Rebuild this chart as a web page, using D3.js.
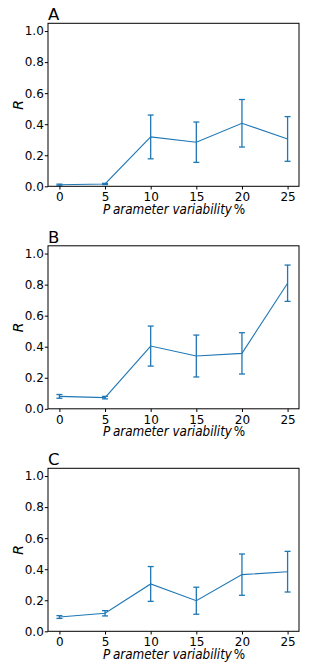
<!DOCTYPE html>
<html>
<head>
<meta charset="utf-8">
<script src="https://cdn.jsdelivr.net/npm/d3@7"></script>
<style>
  body { margin: 0; background: #fff; }
  svg { display: block; }
  text { font-family: "DejaVu Sans", sans-serif; fill: #000; }
</style>
</head>
<body>
<div id="chart"></div>
<script>
// values
const variability = [0, 5, 10, 15, 20, 25];
const panelLabels = ['A', 'B', 'C'];
const meanA = [0.010, 0.015, 0.318, 0.284, 0.406, 0.305];
const errA  = [0.004, 0.004, 0.141, 0.130, 0.153, 0.144];
const meanB = [0.080, 0.072, 0.404, 0.340, 0.357, 0.809];
const errB  = [0.012, 0.008, 0.129, 0.135, 0.133, 0.117];
const meanC = [0.092, 0.116, 0.305, 0.197, 0.365, 0.384];
const errC  = [0.009, 0.017, 0.112, 0.087, 0.133, 0.131];
const yTicks = [0, 0.2, 0.4, 0.6, 0.8, 1.0];

const width = 317, height = 670;
const color = '#1f77b4';

const svg = d3.select('#chart')
  .append('svg')
  .attr('width', width)
  .attr('height', height);

// same scales for every panel, each panel is shifted down
const x = d3.scaleLinear().domain([-1.25, 26.25]).range([48, 299]);
const y = d3.scaleLinear().domain([0, 1.05]).range([186.3, 23.3]);

const panels = [
  { label: panelLabels[0], mean: meanA, err: errA, top: 0 },
  { label: panelLabels[1], mean: meanB, err: errB, top: 222.5 },
  { label: panelLabels[2], mean: meanC, err: errC, top: 445 }
];

panels.forEach(p => {
  const g = svg.append('g').attr('transform', `translate(0, ${p.top})`);
  const pts = variability.map((v, i) => ({ x: v, m: p.mean[i], e: p.err[i] }));

  // axes
  const xAxis = d3.axisBottom(x).tickValues(variability).tickSize(3.2).tickPadding(3.3);
  const yAxis = d3.axisLeft(y).tickValues(yTicks).tickSize(3.2).tickPadding(1)
    .tickFormat(d3.format('.1f'));

  g.append('g')
    .attr('transform', `translate(0, ${y(0)})`)
    .call(xAxis)
    .call(a => a.select('.domain').remove())
    .call(a => a.selectAll('text').attr('font-size', 12).attr('font-family', 'DejaVu Sans'));

  g.append('g')
    .attr('transform', `translate(${x.range()[0]}, 0)`)
    .call(yAxis)
    .call(a => a.select('.domain').remove())
    .call(a => a.selectAll('text').attr('font-size', 12).attr('font-family', 'DejaVu Sans'));

  // frame
  g.append('rect')
    .attr('x', x.range()[0])
    .attr('y', y.range()[1])
    .attr('width', x.range()[1] - x.range()[0])
    .attr('height', y.range()[0] - y.range()[1])
    .attr('fill', 'none')
    .attr('stroke', '#000')
    .attr('stroke-width', 1);

  // error bars
  const eb = g.append('g').attr('stroke', color).attr('stroke-width', 1.3);
  eb.selectAll('line.bar')
    .data(pts).enter().append('line')
    .attr('class', 'bar')
    .attr('x1', d => x(d.x)).attr('x2', d => x(d.x))
    .attr('y1', d => y(d.m - d.e)).attr('y2', d => y(d.m + d.e));
  eb.selectAll('line.capTop')
    .data(pts).enter().append('line')
    .attr('class', 'capTop')
    .attr('x1', d => x(d.x) - 3).attr('x2', d => x(d.x) + 3)
    .attr('y1', d => y(d.m + d.e)).attr('y2', d => y(d.m + d.e));
  eb.selectAll('line.capBot')
    .data(pts).enter().append('line')
    .attr('class', 'capBot')
    .attr('x1', d => x(d.x) - 3).attr('x2', d => x(d.x) + 3)
    .attr('y1', d => y(d.m - d.e)).attr('y2', d => y(d.m - d.e));

  // mean line
  g.append('path')
    .datum(pts)
    .attr('fill', 'none')
    .attr('stroke', color)
    .attr('stroke-width', 1.1)
    .attr('d', d3.line().x(d => x(d.x)).y(d => y(d.m)));

  // labels
  g.append('text')
    .attr('x', 48).attr('y', 20)
    .attr('font-size', 16.5)
    .text(p.label);

  // mathtext-like x label: italic, narrow, gap after the P
  const xl = g.append('text')
    .attr('transform', 'translate(103, 213.7) scale(0.89, 1)')
    .attr('font-size', 13.5)
    .attr('font-style', 'italic');
  xl.append('tspan').text('P');
  xl.append('tspan').attr('dx', 3).text('arameter variability');
  xl.append('tspan').attr('dx', 2).attr('font-style', 'normal').text('%');

  g.append('text')
    .attr('transform', `translate(23.3, ${(y.range()[0] + y.range()[1]) / 2}) rotate(-90)`)
    .attr('text-anchor', 'middle')
    .attr('font-size', 14)
    .attr('font-style', 'italic')
    .text('R');
});
</script>
</body>
</html>
